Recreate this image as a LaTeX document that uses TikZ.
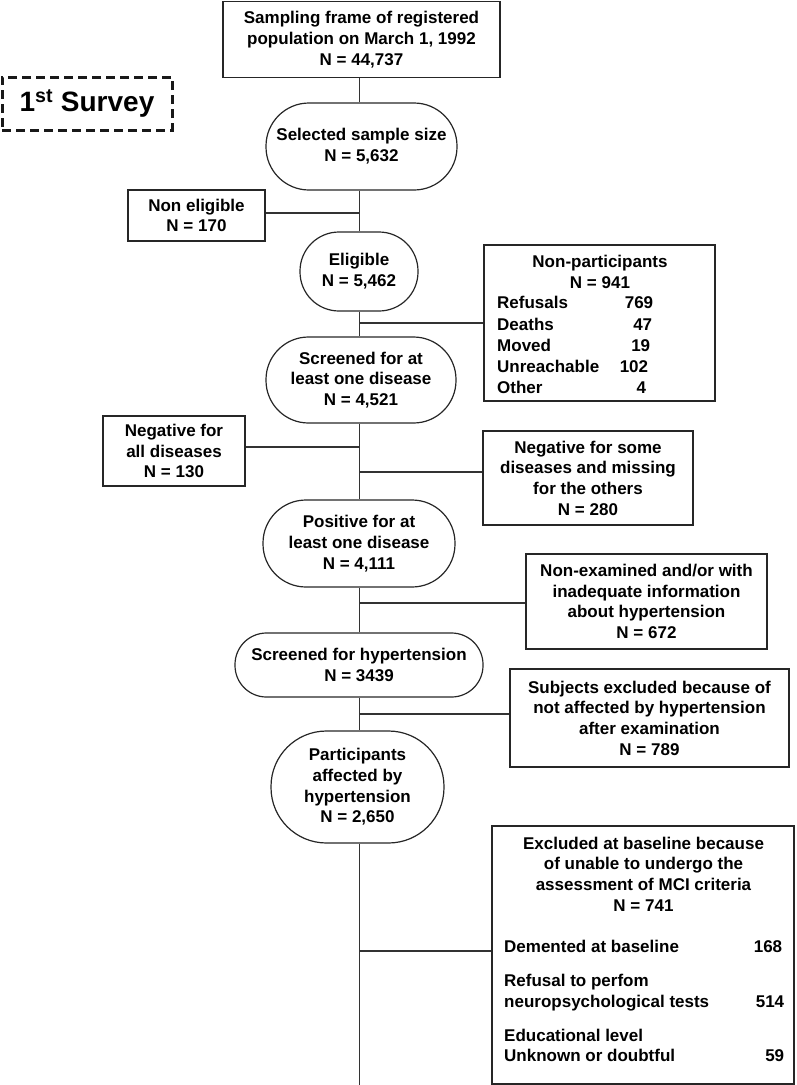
\documentclass[tikz,border=0pt]{standalone}
\usepackage{fontspec}
\setmainfont{Liberation Sans}
\usetikzlibrary{calc}
\begin{document}
\begin{tikzpicture}[x=1pt,y=-1pt,
  txt/.style={font=\fontsize{17pt}{20.7pt}\selectfont\bfseries, align=center, inner sep=0pt},
  tab/.style={inner sep=0pt},
  boxnode/.style={txt, draw=black!85, line width=1.2pt, rectangle},
  stad/.style={boxnode, rounded corners=#1},
  link/.style={draw=black!80, line width=1.1pt}]
\useasboundingbox (0,0) rectangle (796,1085);

\node[boxnode, minimum width=277pt, minimum height=76pt] (top) at (361.5,39.5)
  {Sampling frame of registered\\population on March 1, 1992\\N = 44,737};
\node[draw=black!90, dash pattern=on 9pt off 5pt, line width=3pt, minimum width=170pt,
  minimum height=53pt, inner sep=0pt, font=\fontsize{28pt}{30pt}\selectfont\bfseries]
  (survey) at (87,103.5) {1\textsuperscript{st} Survey};

\node[stad=43pt, minimum width=191pt, minimum height=87pt] (sel) at (361.5,146.5)
  {Selected sample size\\N = 5,632};
\node[boxnode, minimum width=137pt, minimum height=51pt] (noneli) at (196.5,215.5)
  {Non eligible\\N = 170};
\node[stad=39pt, minimum width=118pt, minimum height=79pt] (eli) at (359,271.5)
  {Eligible\\N = 5,462};

\node[boxnode, minimum width=231pt, minimum height=156pt] (nonpart) at (599.5,323) {};
\node[txt] (nptitle) at (600,272) {Non-participants\\N = 941};
\node[tab, anchor=west, font=\fontsize{17pt}{21.2pt}\selectfont\bfseries] (nplist) at (497,347)
  {\begin{tabular}{@{}p{122.6pt}@{}r@{}}
   Refusals & 769\\
   Deaths & 47\kern1pt\\
   Moved & 19\kern3pt\\
   Unreachable & 102\kern5pt\\
   Other & 4\kern7pt
   \end{tabular}};

\node[stad=42.5pt, minimum width=190pt, minimum height=86pt] (scr1) at (361,380)
  {Screened for at\\least one disease\\N = 4,521};
\node[boxnode, minimum width=142pt, minimum height=70pt] (negall) at (174,451)
  {Negative for\\all diseases\\N = 130};
\node[boxnode, minimum width=210pt, minimum height=94pt] (negsome) at (588,478)
  {Negative for some\\diseases and missing\\for the others\\N = 280};
\node[stad=43pt, minimum width=192pt, minimum height=87pt] (pos) at (359,543.5)
  {Positive for at\\least one disease\\N = 4,111};
\node[boxnode, minimum width=241pt, minimum height=95pt] (nonexam) at (646.5,601.5)
  {Non-examined and/or with\\inadequate information\\about hypertension\\N = 672};
\node[stad=31.5pt, minimum width=248pt, minimum height=64pt] (scrhyp) at (359,665)
  {Screened for hypertension\\N = 3439};
\node[boxnode, minimum width=279pt, minimum height=98pt] (subj) at (649.5,718)
  {Subjects excluded because of\\not affected by hypertension\\after examination\\N = 789};
\node[stad=55.5pt, minimum width=173pt, minimum height=112pt] (part) at (357.5,787)
  {Participants\\affected by\\hypertension\\N = 2,650};

\node[boxnode, minimum width=302pt, minimum height=258pt] (excl) at (643,955) {};
\node[txt] (extitle) at (643.5,874)
  {Excluded at baseline because\\of unable to undergo the\\assessment of MCI criteria\\N = 741};
\node[tab, anchor=west, font=\fontsize{17pt}{20.5pt}\selectfont\bfseries] (exlist) at (504,1003.3)
  {\begin{tabular}{@{}p{249.6pt}@{}r@{}}
   Demented at baseline & 168\kern2pt\\[13.5pt]
   Refusal to perfom & \\
   neuropsychological tests & 514\\[13.5pt]
   Educational level & \\
   Unknown or doubtful & 59
   \end{tabular}};

% spine
\coordinate (sp) at (359.5,0);
\coordinate (bot) at (359.5,1085);
\draw[link] (top.south -| sp) -- (sel.north -| sp);
\draw[link] (sel.south -| sp) -- (eli.north -| sp);
\draw[link] (eli.south -| sp) -- (scr1.north -| sp);
\draw[link] (scr1.south -| sp) -- (pos.north -| sp);
\draw[link] (pos.south -| sp) -- (scrhyp.north -| sp);
\draw[link] (scrhyp.south -| sp) -- (part.north -| sp);
\draw[link] (part.south -| sp) -- (bot);

% branches
\coordinate (b1) at (359.5,213);
\coordinate (b2) at (359.5,323);
\coordinate (b3) at (359.5,447);
\coordinate (b4) at (359.5,472);
\coordinate (b5) at (359.5,603);
\coordinate (b6) at (359.5,714);
\coordinate (b7) at (359.5,951);
\draw[link] (b1) -- (b1 -| noneli.east);
\draw[link] (b2) -- (b2 -| nonpart.west);
\draw[link] (b3) -- (b3 -| negall.east);
\draw[link] (b4) -- (b4 -| negsome.west);
\draw[link] (b5) -- (b5 -| nonexam.west);
\draw[link] (b6) -- (b6 -| subj.west);
\draw[link] (b7) -- (b7 -| excl.west);
\end{tikzpicture}
\end{document}
